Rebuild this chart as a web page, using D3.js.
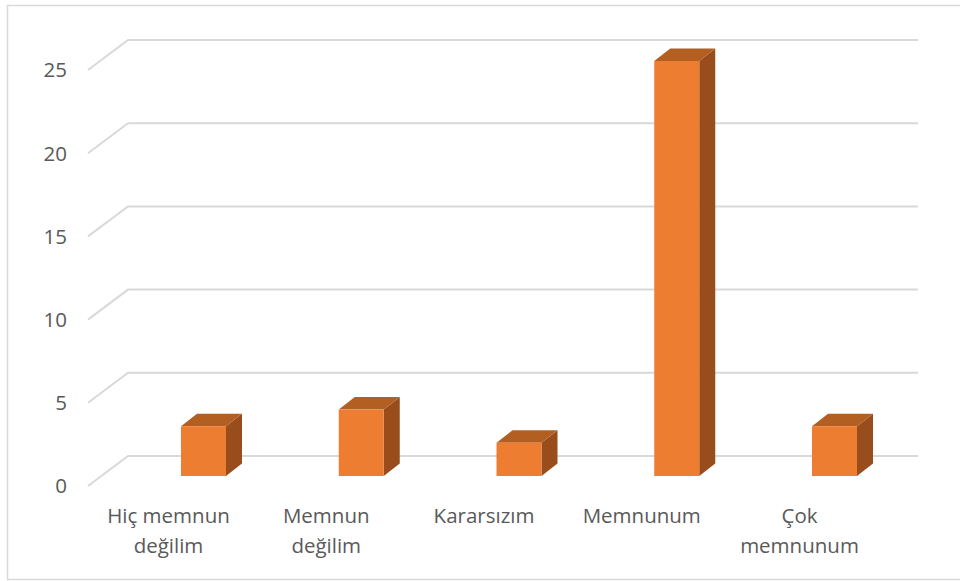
<!DOCTYPE html>
<html>
<head>
<meta charset="utf-8">
<script src="https://cdn.jsdelivr.net/npm/d3@7"></script>
<style>
  html, body { margin: 0; padding: 0; background: #fff; }
  svg { display: block; }
  text { font-family: "Open Sans", "Noto Sans", sans-serif; fill: #595959; }
</style>
</head>
<body>
<svg id="chart" width="960" height="581"></svg>
<script>
// ---- data ----
const categories = [["Hiç memnun", "değilim"], ["Memnun", "değilim"], ["Kararsızım"], ["Memnunum"], ["Çok", "memnunum"]];
const values = [3, 4, 2, 25, 3];
const yTicks = [0, 5, 10, 15, 20, 25];

// ---- layout ----
const W = 960, H = 581;
const svg = d3.select("#chart");

// chart border
svg.append("rect")
  .attr("x", 7.5).attr("y", 5.5)
  .attr("width", 960).attr("height", 574)
  .attr("fill", "none").attr("stroke", "#d9d9d9").attr("stroke-width", 1.5);

const yDomain = [0, 25];
// back wall value scale
const yBack = d3.scaleLinear().domain(yDomain).range([456, 40]);
// bar front-face value scale
const yFront = d3.scaleLinear().domain(yDomain).range([476, 61]);

const wallLeft = 128, wallRight = 918;
const depthX = 40, depthY = 30; // floor depth (oblique)

// gridlines (back wall + left side diagonal)
const grid = svg.append("g");
yTicks.forEach(t => {
  const yb = yBack(t);
  grid.append("path")
    .attr("d", `M${wallLeft - depthX},${yb + depthY} L${wallLeft},${yb} L${wallRight},${yb}`)
    .attr("fill", "none")
    .attr("stroke", "#d9d9d9")
    .attr("stroke-width", 2);
});

// y-axis labels
svg.append("g").selectAll("text")
  .data(yTicks)
  .join("text")
  .attr("x", 67)
  .attr("y", d => yBack(d) + depthY)
  .attr("dy", "0.36em")
  .attr("text-anchor", "end")
  .attr("font-size", "20.5px")
  .text(d => d);

// x scale (bar front-face centers)
const x = d3.scalePoint()
  .domain(d3.range(categories.length))
  .range([203.5, 834.5]);

const barW = 45;
const bdx = 16, bdy = -12.5;
const cFront = "#ED7D31", cTop = "#B35F22", cSide = "#9A4D1C";

const bars = svg.append("g").selectAll("g")
  .data(values)
  .join("g");

bars.each(function(v, i) {
  const g = d3.select(this);
  const x0 = x(i) - barW / 2, x1 = x(i) + barW / 2;
  const yb = yFront(0), yt = yFront(v);
  // side
  g.append("path")
    .attr("d", `M${x1},${yb} L${x1 + bdx},${yb + bdy} L${x1 + bdx},${yt + bdy} L${x1},${yt} Z`)
    .attr("fill", cSide);
  // top
  g.append("path")
    .attr("d", `M${x0},${yt} L${x0 + bdx},${yt + bdy} L${x1 + bdx},${yt + bdy} L${x1},${yt} Z`)
    .attr("fill", cTop);
  // front
  g.append("rect")
    .attr("x", x0).attr("y", yt)
    .attr("width", barW).attr("height", yb - yt)
    .attr("fill", cFront);
});

// category labels
const labelShift = -35;
const labels = svg.append("g").selectAll("text")
  .data(categories)
  .join("text")
  .attr("text-anchor", "middle")
  .attr("font-size", "20.5px")
  .attr("x", (d, i) => x(i) + labelShift)
  .attr("y", 523);
labels.each(function(lines, i) {
  const t = d3.select(this);
  lines.forEach((ln, k) => {
    t.append("tspan")
      .attr("x", x(i) + labelShift)
      .attr("y", 523 + k * 30)
      .text(ln);
  });
});
</script>
</body>
</html>
